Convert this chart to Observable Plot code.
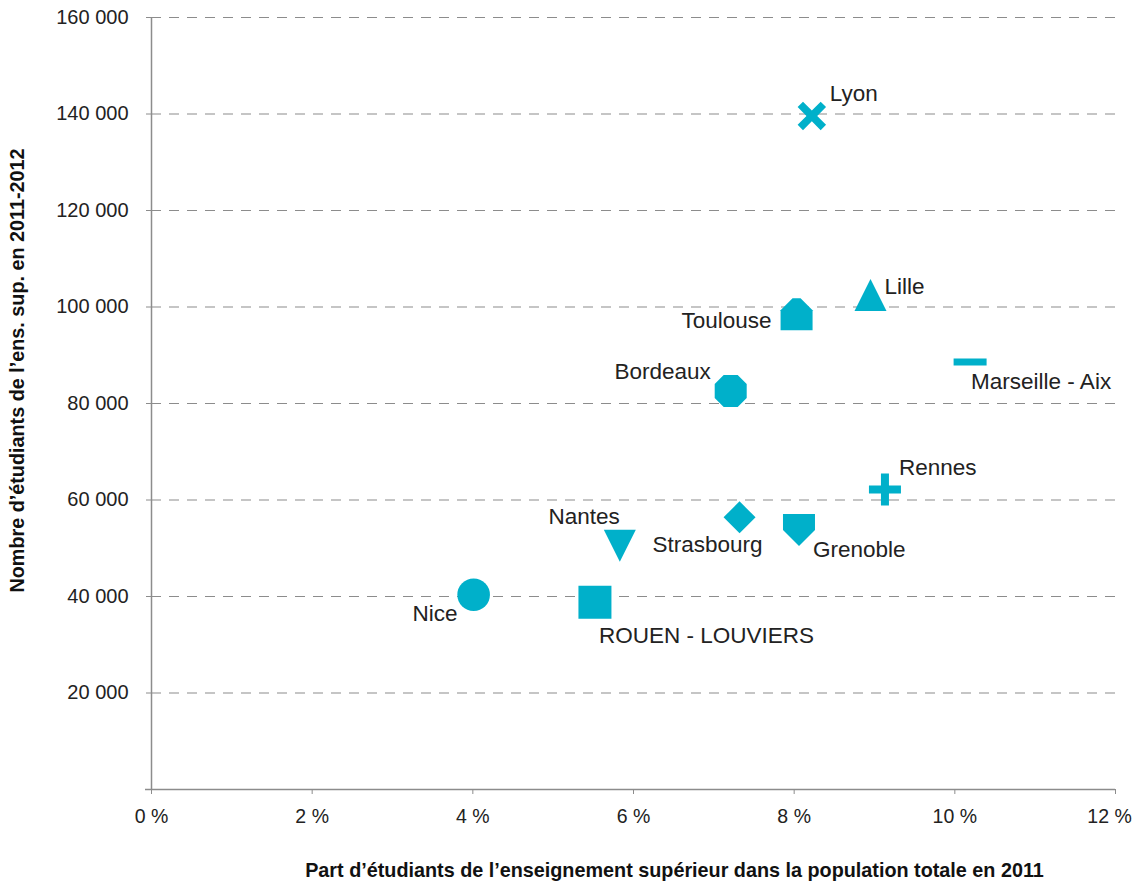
<!DOCTYPE html>
<html>
<head>
<meta charset="utf-8">
<script src="https://cdn.jsdelivr.net/npm/d3@7"></script>
<script src="https://cdn.jsdelivr.net/npm/@observablehq/plot@0.6"></script>
<style>
  html, body { margin: 0; padding: 0; background: #fff; }
  #chart { width: 1136px; height: 883px; }
</style>
</head>
<body>
<div id="chart"></div>
<script>
// ---- Data ----
const cities = ["Lyon", "Lille", "Toulouse", "Marseille - Aix", "Bordeaux", "Rennes", "Strasbourg", "Grenoble", "Nantes", "Nice", "ROUEN - LOUVIERS"];
const shares = [8.22, 8.95, 8.03, 10.19, 7.21, 9.13, 7.32, 8.06, 5.83, 4.01, 5.52]; // % of population
const students = [139600, 102500, 98500, 88600, 82600, 62200, 56400, 53800, 50500, 40350, 38800];
const xTicks = [0, 2, 4, 6, 8, 10, 12];
const yTicks = [0, 20000, 40000, 60000, 80000, 100000, 120000, 140000, 160000];
const xTitle = "Part d’étudiants de l’enseignement supérieur dans la population totale en 2011";
const yTitle = "Nombre d’étudiants de l’ens. sup. en 2011-2012";

// ---- Styles ----
const teal = "#00B0CA";
const grey = "#8c8c8c";
const fontFamily = "'Liberation Sans', Arial, sans-serif";

function poly(pts) {
  return {
    draw(ctx, size) {
      const k = Math.sqrt(size / Math.PI) / 16.5;
      pts.forEach(([x, y], i) => (i ? ctx.lineTo(x * k, y * k) : ctx.moveTo(x * k, y * k)));
      ctx.closePath();
    }
  };
}
function plusPts(L, w) {
  return [[w,-L],[w,-w],[L,-w],[L,w],[w,w],[w,L],[-w,L],[-w,w],[-L,w],[-L,-w],[-w,-w],[-w,-L]];
}
const rot45 = pts => pts.map(([x, y]) => [(x - y) / Math.SQRT2, (x + y) / Math.SQRT2]);
const circleSym = {
  draw(ctx, size) {
    const r = Math.sqrt(size / Math.PI) * 16.3 / 16.5;
    ctx.moveTo(r, 0);
    ctx.arc(0, 0, r, 0, 2 * Math.PI);
  }
};
const symbolOf = {
  "Lyon": poly(rot45(plusPts(16.3, 3.8))),
  "Lille": poly([[0,-16],[16,16],[-16,16]]),
  "Toulouse": poly([[-4,-16],[4,-16],[16,-4],[16,16],[-16,16],[-16,-4]]),
  "Marseille - Aix": poly([[-16.5,-3.5],[16.5,-3.5],[16.5,3.5],[-16.5,3.5]]),
  "Bordeaux": poly([[-7,-16],[7,-16],[16,-7],[16,7],[7,16],[-7,16],[-16,7],[-16,-7]]),
  "Rennes": poly(plusPts(16, 4)),
  "Strasbourg": poly([[0,-16],[16,0],[0,16],[-16,0]]),
  "Grenoble": poly([[-16,-16],[16,-16],[16,0],[0,16],[-16,0]]),
  "Nantes": poly([[-16,-16],[16,-16],[0,16]]),
  "Nice": circleSym,
  "ROUEN - LOUVIERS": poly([[-16.5,-16.5],[16.5,-16.5],[16.5,16.5],[-16.5,16.5]])
};
const labelOf = {
  "Lyon": {dx: 18, dy: -22, anchor: "start"},
  "Lille": {dx: 14, dy: -8, anchor: "start"},
  "Toulouse": {dx: -25, dy: 7, anchor: "end"},
  "Marseille - Aix": {dx: 1, dy: 20, anchor: "start"},
  "Bordeaux": {dx: -20, dy: -19, anchor: "end"},
  "Rennes": {dx: 14, dy: -22, anchor: "start"},
  "Strasbourg": {dx: 23, dy: 27, anchor: "end"},
  "Grenoble": {dx: 14, dy: 20, anchor: "start"},
  "Nantes": {dx: 0, dy: -29, anchor: "end"},
  "Nice": {dx: -16, dy: 19, anchor: "end"},
  "ROUEN - LOUVIERS": {dx: 4, dy: 34, anchor: "start"}
};

const data = cities.map((c, i) => ({city: c, share: shares[i], students: students[i]}));
const fmtY = d => d === 0 ? "" : d3.format(",")(d).replace(/,/g, " ");
const fmtX = d => d + " %";

const labelMarks = cities.map(c => {
  const o = labelOf[c];
  return Plot.text(data.filter(d => d.city === c), {
    x: "share", y: "students", text: "city",
    dx: o.dx, dy: o.dy, textAnchor: o.anchor,
    fontSize: 22.5, fill: "#222", fontFamily
  });
});

const chart = Plot.plot({
  width: 1136,
  height: 883,
  marginLeft: 151,
  marginRight: 21,
  marginTop: 17,
  marginBottom: 94,
  style: {fontFamily, background: "#fff", overflow: "visible"},
  x: {domain: [0, 12], label: null},
  y: {domain: [0, 160000], label: null},
  symbol: {domain: cities, range: cities.map(c => symbolOf[c])},
  marks: [
    Plot.gridY(yTicks.filter(d => d > 0), {stroke: grey, strokeOpacity: 1, strokeWidth: 1.2, strokeDasharray: "10,8"}),
    Plot.ruleX([0], {stroke: grey, strokeWidth: 1.5}),
    Plot.ruleY([0], {stroke: grey, strokeWidth: 1.5, insetLeft: -6}),
    // x tick lines
    Plot.axisX(xTicks, {tickSize: 5, stroke: grey, text: null, label: null}),
    // x tick labels
    Plot.axisX(xTicks.filter(d => d < 12), {
      tickFormat: fmtX, tickSize: 0, tickPadding: 20,
      fontSize: 19.5, fill: "#222", label: null
    }),
    Plot.axisX([12], {
      tickFormat: fmtX, tickSize: 0, tickPadding: 20, dx: -6,
      fontSize: 19.5, fill: "#222", label: null
    }),
    Plot.axisY(yTicks, {
      tickFormat: fmtY, tickSize: 5, tickPadding: 18, stroke: grey,
      fontSize: 20, fill: "#222", label: null
    }),
    Plot.dot(data, {x: "share", y: "students", symbol: "city", r: 16.5, fill: teal, stroke: "none"}),
    ...labelMarks,
    Plot.text([xTitle], {frameAnchor: "bottom", dx: 41, dy: 87, fontWeight: "bold", fontSize: 19.8, fill: "#111", fontFamily}),
    Plot.text([yTitle], {frameAnchor: "left", textAnchor: "middle", rotate: -90, dx: -134, dy: -33, fontWeight: "bold", fontSize: 19.8, fill: "#111", fontFamily})
  ]
});
document.getElementById("chart").appendChild(chart);
</script>
</body>
</html>
